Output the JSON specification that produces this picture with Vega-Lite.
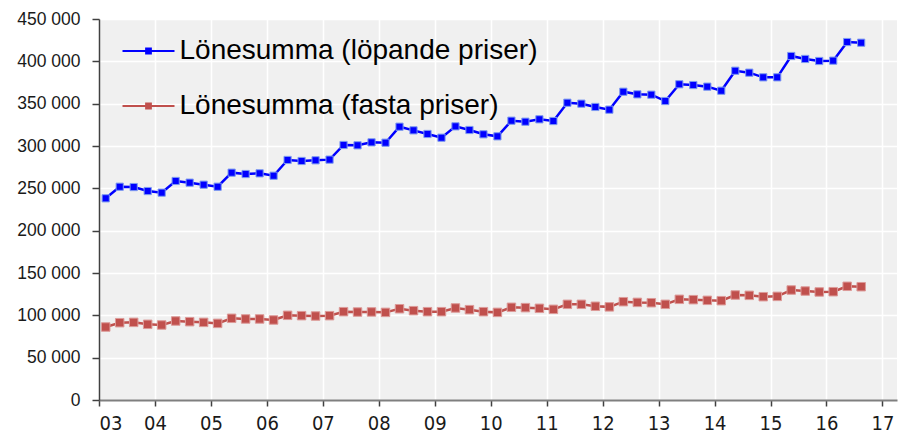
{
  "$schema": "https://vega.github.io/schema/vega-lite/v6.json",
  "width": 798,
  "height": 381,
  "autosize": {"type": "none"},
  "padding": {"left": 99, "top": 19, "right": 7, "bottom": 39},
  "background": "white",
  "config": {
    "view": {"fill": "#f0f0f0", "stroke": null},
    "locale": {"number": {"decimal": ",", "thousands": " ", "grouping": [3], "currency": ["", " kr"]}}
  },
  "datasets": {
    "d": [
      {"t": 2003.12, "s": "Lönesumma (löpande priser)", "v": 238200},
      {"t": 2003.37, "s": "Lönesumma (löpande priser)", "v": 251900},
      {"t": 2003.62, "s": "Lönesumma (löpande priser)", "v": 251500},
      {"t": 2003.87, "s": "Lönesumma (löpande priser)", "v": 246800},
      {"t": 2004.12, "s": "Lönesumma (löpande priser)", "v": 244900},
      {"t": 2004.37, "s": "Lönesumma (löpande priser)", "v": 258700},
      {"t": 2004.62, "s": "Lönesumma (löpande priser)", "v": 256700},
      {"t": 2004.87, "s": "Lönesumma (löpande priser)", "v": 254300},
      {"t": 2005.12, "s": "Lönesumma (löpande priser)", "v": 251900},
      {"t": 2005.37, "s": "Lönesumma (löpande priser)", "v": 268500},
      {"t": 2005.62, "s": "Lönesumma (löpande priser)", "v": 266900},
      {"t": 2005.87, "s": "Lönesumma (löpande priser)", "v": 267700},
      {"t": 2006.12, "s": "Lönesumma (löpande priser)", "v": 264900},
      {"t": 2006.37, "s": "Lönesumma (löpande priser)", "v": 283500},
      {"t": 2006.62, "s": "Lönesumma (löpande priser)", "v": 282300},
      {"t": 2006.87, "s": "Lönesumma (löpande priser)", "v": 283100},
      {"t": 2007.12, "s": "Lönesumma (löpande priser)", "v": 283900},
      {"t": 2007.37, "s": "Lönesumma (löpande priser)", "v": 301200},
      {"t": 2007.62, "s": "Lönesumma (löpande priser)", "v": 300800},
      {"t": 2007.87, "s": "Lönesumma (löpande priser)", "v": 304300},
      {"t": 2008.12, "s": "Lönesumma (löpande priser)", "v": 303900},
      {"t": 2008.37, "s": "Lönesumma (löpande priser)", "v": 322800},
      {"t": 2008.62, "s": "Lönesumma (löpande priser)", "v": 318500},
      {"t": 2008.87, "s": "Lönesumma (löpande priser)", "v": 314200},
      {"t": 2009.12, "s": "Lönesumma (löpande priser)", "v": 309800},
      {"t": 2009.37, "s": "Lönesumma (löpande priser)", "v": 323200},
      {"t": 2009.62, "s": "Lönesumma (löpande priser)", "v": 318900},
      {"t": 2009.87, "s": "Lönesumma (löpande priser)", "v": 313800},
      {"t": 2010.12, "s": "Lönesumma (löpande priser)", "v": 311400},
      {"t": 2010.37, "s": "Lönesumma (löpande priser)", "v": 329900},
      {"t": 2010.62, "s": "Lönesumma (löpande priser)", "v": 328700},
      {"t": 2010.87, "s": "Lönesumma (löpande priser)", "v": 331500},
      {"t": 2011.12, "s": "Lönesumma (löpande priser)", "v": 329500},
      {"t": 2011.37, "s": "Lönesumma (löpande priser)", "v": 351100},
      {"t": 2011.62, "s": "Lönesumma (löpande priser)", "v": 350000},
      {"t": 2011.87, "s": "Lönesumma (löpande priser)", "v": 346100},
      {"t": 2012.12, "s": "Lönesumma (löpande priser)", "v": 342900},
      {"t": 2012.37, "s": "Lönesumma (löpande priser)", "v": 364100},
      {"t": 2012.62, "s": "Lönesumma (löpande priser)", "v": 361000},
      {"t": 2012.87, "s": "Lönesumma (löpande priser)", "v": 360600},
      {"t": 2013.12, "s": "Lönesumma (löpande priser)", "v": 353100},
      {"t": 2013.37, "s": "Lönesumma (löpande priser)", "v": 372900},
      {"t": 2013.62, "s": "Lönesumma (löpande priser)", "v": 372000},
      {"t": 2013.87, "s": "Lönesumma (löpande priser)", "v": 370100},
      {"t": 2014.12, "s": "Lönesumma (löpande priser)", "v": 365300},
      {"t": 2014.37, "s": "Lönesumma (löpande priser)", "v": 388900},
      {"t": 2014.62, "s": "Lönesumma (löpande priser)", "v": 386600},
      {"t": 2014.87, "s": "Lönesumma (löpande priser)", "v": 381100},
      {"t": 2015.12, "s": "Lönesumma (löpande priser)", "v": 381100},
      {"t": 2015.37, "s": "Lönesumma (löpande priser)", "v": 406300},
      {"t": 2015.62, "s": "Lönesumma (löpande priser)", "v": 402800},
      {"t": 2015.87, "s": "Lönesumma (löpande priser)", "v": 400400},
      {"t": 2016.12, "s": "Lönesumma (löpande priser)", "v": 400800},
      {"t": 2016.37, "s": "Lönesumma (löpande priser)", "v": 422800},
      {"t": 2016.62, "s": "Lönesumma (löpande priser)", "v": 422000},
      {"t": 2003.12, "s": "Lönesumma (fasta priser)", "v": 86200},
      {"t": 2003.37, "s": "Lönesumma (fasta priser)", "v": 91300},
      {"t": 2003.62, "s": "Lönesumma (fasta priser)", "v": 91700},
      {"t": 2003.87, "s": "Lönesumma (fasta priser)", "v": 89400},
      {"t": 2004.12, "s": "Lönesumma (fasta priser)", "v": 88600},
      {"t": 2004.37, "s": "Lönesumma (fasta priser)", "v": 93300},
      {"t": 2004.62, "s": "Lönesumma (fasta priser)", "v": 92500},
      {"t": 2004.87, "s": "Lönesumma (fasta priser)", "v": 91700},
      {"t": 2005.12, "s": "Lönesumma (fasta priser)", "v": 90500},
      {"t": 2005.37, "s": "Lönesumma (fasta priser)", "v": 96500},
      {"t": 2005.62, "s": "Lönesumma (fasta priser)", "v": 95700},
      {"t": 2005.87, "s": "Lönesumma (fasta priser)", "v": 95700},
      {"t": 2006.12, "s": "Lönesumma (fasta priser)", "v": 94500},
      {"t": 2006.37, "s": "Lönesumma (fasta priser)", "v": 100000},
      {"t": 2006.62, "s": "Lönesumma (fasta priser)", "v": 99600},
      {"t": 2006.87, "s": "Lönesumma (fasta priser)", "v": 99200},
      {"t": 2007.12, "s": "Lönesumma (fasta priser)", "v": 99600},
      {"t": 2007.37, "s": "Lönesumma (fasta priser)", "v": 104300},
      {"t": 2007.62, "s": "Lönesumma (fasta priser)", "v": 103900},
      {"t": 2007.87, "s": "Lönesumma (fasta priser)", "v": 104000},
      {"t": 2008.12, "s": "Lönesumma (fasta priser)", "v": 103500},
      {"t": 2008.37, "s": "Lönesumma (fasta priser)", "v": 107800},
      {"t": 2008.62, "s": "Lönesumma (fasta priser)", "v": 105500},
      {"t": 2008.87, "s": "Lönesumma (fasta priser)", "v": 104300},
      {"t": 2009.12, "s": "Lönesumma (fasta priser)", "v": 104300},
      {"t": 2009.37, "s": "Lönesumma (fasta priser)", "v": 108700},
      {"t": 2009.62, "s": "Lönesumma (fasta priser)", "v": 106700},
      {"t": 2009.87, "s": "Lönesumma (fasta priser)", "v": 104300},
      {"t": 2010.12, "s": "Lönesumma (fasta priser)", "v": 103500},
      {"t": 2010.37, "s": "Lönesumma (fasta priser)", "v": 109500},
      {"t": 2010.62, "s": "Lönesumma (fasta priser)", "v": 109100},
      {"t": 2010.87, "s": "Lönesumma (fasta priser)", "v": 108300},
      {"t": 2011.12, "s": "Lönesumma (fasta priser)", "v": 107100},
      {"t": 2011.37, "s": "Lönesumma (fasta priser)", "v": 113000},
      {"t": 2011.62, "s": "Lönesumma (fasta priser)", "v": 113000},
      {"t": 2011.87, "s": "Lönesumma (fasta priser)", "v": 110700},
      {"t": 2012.12, "s": "Lönesumma (fasta priser)", "v": 110000},
      {"t": 2012.37, "s": "Lönesumma (fasta priser)", "v": 116100},
      {"t": 2012.62, "s": "Lönesumma (fasta priser)", "v": 115300},
      {"t": 2012.87, "s": "Lönesumma (fasta priser)", "v": 114900},
      {"t": 2013.12, "s": "Lönesumma (fasta priser)", "v": 113000},
      {"t": 2013.37, "s": "Lönesumma (fasta priser)", "v": 118900},
      {"t": 2013.62, "s": "Lönesumma (fasta priser)", "v": 118500},
      {"t": 2013.87, "s": "Lönesumma (fasta priser)", "v": 117700},
      {"t": 2014.12, "s": "Lönesumma (fasta priser)", "v": 117300},
      {"t": 2014.37, "s": "Lönesumma (fasta priser)", "v": 124000},
      {"t": 2014.62, "s": "Lönesumma (fasta priser)", "v": 123600},
      {"t": 2014.87, "s": "Lönesumma (fasta priser)", "v": 122000},
      {"t": 2015.12, "s": "Lönesumma (fasta priser)", "v": 122400},
      {"t": 2015.37, "s": "Lönesumma (fasta priser)", "v": 129900},
      {"t": 2015.62, "s": "Lönesumma (fasta priser)", "v": 128700},
      {"t": 2015.87, "s": "Lönesumma (fasta priser)", "v": 127600},
      {"t": 2016.12, "s": "Lönesumma (fasta priser)", "v": 127900},
      {"t": 2016.37, "s": "Lönesumma (fasta priser)", "v": 134300},
      {"t": 2016.62, "s": "Lönesumma (fasta priser)", "v": 133800}
    ]
  },
  "data": {"name": "d"},
  "encoding": {
    "x": {
      "field": "t",
      "type": "quantitative",
      "scale": {"domain": [2003, 2017.26], "nice": false, "zero": false},
      "axis": {
        "title": null,
        "values": [2003, 2004, 2005, 2006, 2007, 2008, 2009, 2010, 2011, 2012, 2013, 2014, 2015, 2016, 2017],
        "labelExpr": "substring(toString(datum.value), 2)",
        "grid": true,
        "gridColor": "#ffffff",
        "gridWidth": 1.5,
        "domainColor": "#7f7f7f",
        "domainWidth": 2,
        "tickColor": "#404040",
        "tickWidth": 1.5,
        "tickSize": 6,
        "labelFont": "DejaVu Sans Condensed, Liberation Sans",
        "labelFontSize": 20,
        "labelColor": "#1a1a1a",
        "labelPadding": 7,
        "labelOverlap": false
      }
    },
    "y": {
      "field": "v",
      "type": "quantitative",
      "scale": {"domain": [0, 450000], "nice": false},
      "axis": {
        "title": null,
        "values": [0, 50000, 100000, 150000, 200000, 250000, 300000, 350000, 400000, 450000],
        "format": ",d",
        "grid": true,
        "gridColor": "#ffffff",
        "gridWidth": 1.5,
        "domainColor": "#404040",
        "domainWidth": 1.5,
        "tickColor": "#404040",
        "tickWidth": 1.5,
        "tickSize": 7,
        "labelFont": "Liberation Sans",
        "labelFontSize": 17.5,
        "labelColor": "#1a1a1a",
        "labelPadding": 12,
        "labelOverlap": false
      }
    }
  },
  "layer": [
    {
      "mark": {"type": "line", "strokeWidth": 2.5},
      "encoding": {
        "color": {
          "field": "s",
          "type": "nominal",
          "sort": ["Lönesumma (löpande priser)", "Lönesumma (fasta priser)"],
          "scale": {"domain": ["Lönesumma (löpande priser)", "Lönesumma (fasta priser)"], "range": ["#0000ff", "#c0504d"]},
          "legend": {
            "title": null,
            "orient": "none",
            "legendX": 23.5,
            "legendY": 6,
            "padding": 0,
            "symbolType": "M-1,-0.04H1V0.04H-1ZM-0.13,-0.13H0.13V0.13H-0.13Z",
            "symbolSize": 2704,
            "symbolStrokeWidth": 0,
            "labelFont": "Liberation Sans",
            "labelFontSize": 28,
            "labelColor": "#000000",
            "labelOffset": 5,
            "labelLimit": 700,
            "rowPadding": 15,
            "encode": {
              "symbols": {"update": {"fill": {"scale": "color", "field": "value"}, "stroke": {"value": "transparent"}, "size": {"value": 2704}}}
            }
          }
        }
      }
    },
    {
      "transform": [{"filter": "datum.s === 'Lönesumma (löpande priser)'"}],
      "mark": {"type": "point", "shape": "square", "filled": true, "opacity": 1, "fill": "#0000ff", "stroke": "#7f9cf0", "strokeWidth": 1, "size": 52}
    },
    {
      "transform": [{"filter": "datum.s === 'Lönesumma (fasta priser)'"}],
      "mark": {"type": "point", "shape": "square", "filled": true, "opacity": 1, "fill": "#c0504d", "stroke": "#dc9a98", "strokeWidth": 1, "size": 72}
    }
  ]
}
